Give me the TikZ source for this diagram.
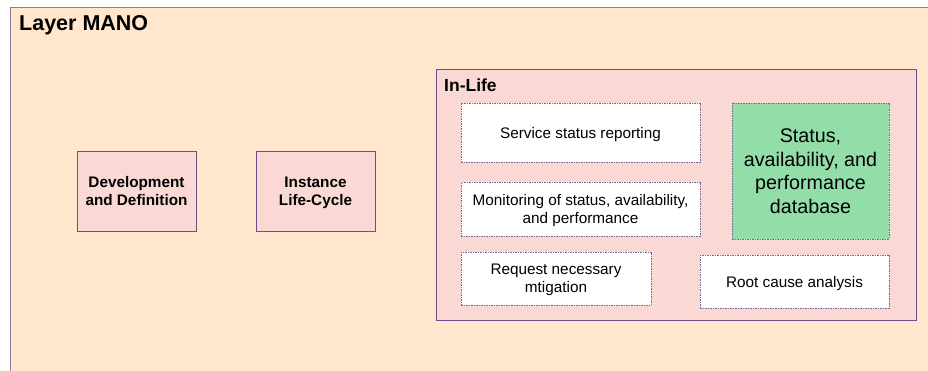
\documentclass[tikz,border=0pt]{standalone}
\usepackage{fontspec}
\setmainfont{Liberation Sans}
\usepackage{tikz}
\usetikzlibrary{calc}
\definecolor{layerfill}{HTML}{FFE6CC}
\definecolor{boxfill}{HTML}{FAD9D5}
\definecolor{dbfill}{HTML}{93DDA8}
\definecolor{edge}{HTML}{6B4E8C}
\definecolor{outeredge}{HTML}{8A7A9E}
\definecolor{dashedge}{HTML}{76699A}
\tikzset{
  stage/.style={draw=edge,fill=boxfill,line width=0.8pt,align=center,font=\fontsize{15.3}{18}\selectfont\bfseries,inner sep=0pt,text depth=-3pt},
  task/.style={draw=dashedge,fill=white,dash pattern=on 1.5pt off 1pt,line width=0.7pt,align=center,font=\fontsize{15.3}{18}\selectfont,inner sep=0pt,text depth=-3pt},
  title/.style={anchor=west,font=\fontsize{21.5}{24}\selectfont\bfseries,inner sep=0pt}
}
\begin{document}
\begin{tikzpicture}[x=1pt,y=-1pt]
    \useasboundingbox (0,0) rectangle (928,371);
    \begin{scope}
        \clip (0,0) rectangle (928,371);
        \draw[draw=outeredge,fill=layerfill,line width=0.8pt] (10,7) rectangle (940,390);
    \end{scope}
    \node[title] (layer) at (19,25) {Layer MANO};
    % the In-Life group
    \draw[draw=edge,fill=boxfill,line width=0.8pt] (436,69) rectangle (916,320);
    \node[title,font=\fontsize{17.5}{20}\selectfont\bfseries] (inlife) at (444,85) {In-Life};
    \node[stage,minimum width=119,minimum height=80] (dev) at (136.5,191) {Development\\and Definition};
    \node[stage,minimum width=119,minimum height=80] (inst) at (315.5,191) {Instance\\Life-Cycle};
    \node[task,minimum width=239,minimum height=59] (report) at (580.5,132.5) {Service status reporting};
    \node[task,minimum width=239,minimum height=54] (monitor) at (580.5,209) {Monitoring of status, availability,\\and performance};
    \node[task,minimum width=190,minimum height=53] (request) at (556,278.5) {Request necessary\\mtigation};
    \node[task,minimum width=189,minimum height=53] (rootcause) at (794.5,281.5) {Root cause analysis};
    \node[task,fill=dbfill,minimum width=157,minimum height=136,font=\fontsize{19.7}{23.5}\selectfont] (db) at (810.5,171) {Status,\\availability, and\\performance\\database};
\end{tikzpicture}
\end{document}
